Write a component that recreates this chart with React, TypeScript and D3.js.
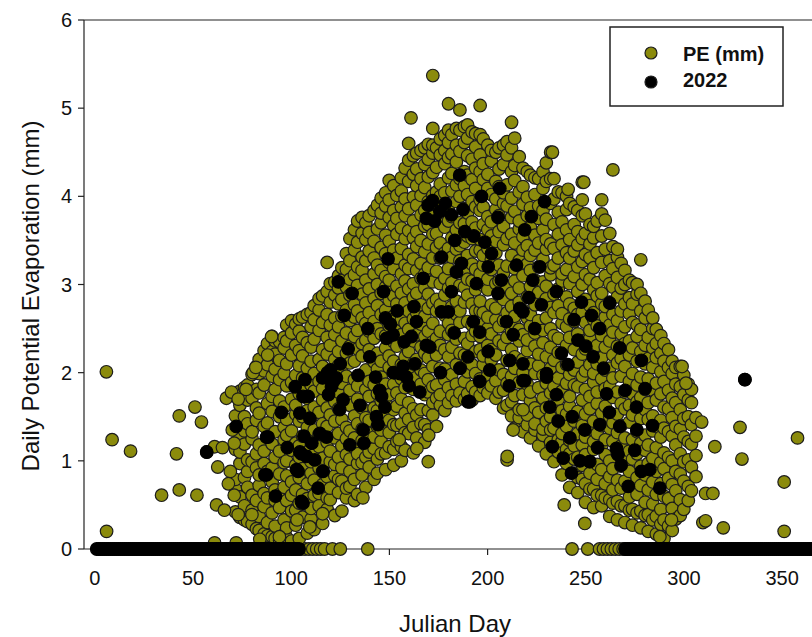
import React from 'react';
import * as d3 from 'd3';

const xTicks = [0, 50, 100, 150, 200, 250, 300, 350];
const yTicks = [0, 1, 2, 3, 4, 5, 6];
const seriesNames = ['PE (mm)', '2022'];

// PE (mm) cloud, read column by column: "julian day: PE values in hundredths of mm"
const peColumns = `71.6:42 68 79 113 137 151 176
73.9:36 59 97 110 128 163 179
76.2:33 49 81 119 134 150 183
77.8:31 70 88 101 142 169 186
80.1:28 44 61 99 125 133 171 198
82.3:23 55 92 108 146 160 181 207
83.7:21 37 72 84 118 154 177 199 215
86.2:17 48 63 97 111 139 186 202 225
87.9:15 30 58 88 127 143 165 209 233
90.3:14 41 76 92 119 156 173 196 224 241
91.8:12 26 55 67 104 133 181 204 221 236
94.1:10 47 62 85 111 150 168 192 214 235
96.4:11 33 70 98 124 138 161 199 228 240
97.7:13 24 55 83 100 129 147 185 210 236 254
100.2:9 43 61 76 112 134 170 189 220 245 259
102.3:27 44 67 95 120 153 163 197 231 255
104.1:12 52 81 104 117 145 176 208 225 247 261
105.8:36 51 62 91 128 150 182 194 219 240 263
108.2:18 57 74 110 138 157 171 205 234 266
110.1:34 46 86 99 124 149 186 213 229 252 268
111.7:22 61 78 107 135 161 179 199 238 260 276
114.2:49 63 92 116 130 155 190 215 248 271 284
116.0:29 73 88 103 142 169 182 207 226 257 287
118.3:45 58 82 121 139 160 197 221 240 266 292 325
119.9:56 69 99 111 152 175 193 231 254 280 301
122.2:38 83 96 126 145 167 186 215 243 262 288 303
124.1:64 79 104 131 159 178 208 224 252 278 296 310
125.8:43 77 92 117 147 188 201 236 264 283 305 319
128.1:58 69 107 125 138 171 196 222 245 271 297 317 335
129.9:71 88 102 134 163 180 211 230 259 288 306 327 352
132.2:55 79 115 126 151 192 213 241 263 277 311 339 362
133.8:62 97 108 142 170 185 227 248 270 299 320 348 372
136.1:84 98 123 136 160 198 219 233 262 289 316 331 358 376
138.0:70 104 118 149 181 203 237 256 279 305 327 351 370
139.7:93 110 131 146 173 190 226 247 268 295 338 359 378
142.2:79 114 127 160 186 212 239 258 284 312 330 349 384
143.9:86 102 139 157 176 204 222 250 276 300 322 363 390
145.8:108 122 135 168 195 213 244 266 290 316 342 370 381 398
148.1:90 109 150 164 187 228 242 271 297 309 335 356 389 404
149.9:116 132 146 175 206 219 253 282 305 325 349 376 396 418
152.2:95 113 141 158 187 213 235 264 287 318 339 367 384 412
153.8:122 140 162 177 199 230 247 278 298 330 357 375 401
156.1:100 116 142 170 193 209 243 260 290 312 341 364 388 406 421
158.0:112 132 154 183 218 232 256 279 304 322 352 378 397 432
159.8:131 147 166 200 224 249 270 295 318 334 361 386 417 441 460
162.2:109 138 159 181 210 236 261 285 301 329 353 372 399 425 446
163.9:126 152 195 215 243 268 290 316 343 360 390 412 431 449
166.1:142 158 187 203 229 255 277 307 324 350 379 401 420 452
168.0:121 141 175 199 222 241 264 296 312 337 366 384 410 436 455
169.8:99 135 157 178 192 217 247 273 289 319 346 368 394 422 442 459
172.1:152 166 184 207 235 256 279 303 330 357 377 401 427 449 458 477 537
174.0:139 171 186 220 239 270 283 315 342 358 391 405 433 455
175.9:163 175 205 231 247 277 301 330 347 376 400 414 447 465
178.2:157 192 204 226 265 288 307 336 365 381 404 437 452 469
180.1:166 183 218 243 256 296 318 341 372 389 421 444 461 475 505
181.8:174 198 229 248 275 302 331 353 377 406 426 448 470
184.1:168 187 209 238 266 281 315 340 362 394 413 439 458 477
185.9:177 205 222 257 270 299 327 344 370 400 420 451 475 498
188.2:170 190 220 239 280 297 313 348 369 386 412 428 461 479
189.8:176 201 213 233 258 288 306 333 355 381 402 424 446 466 481
192.1:169 184 209 242 254 278 304 323 352 371 394 419 442 473
193.9:178 199 224 247 270 294 317 338 364 388 409 432 456 471
196.2:174 193 226 241 270 281 312 339 351 384 396 428 447 470 503
197.8:183 209 219 255 268 299 322 333 368 388 419 437 465
200.1:177 197 231 250 263 294 306 341 362 377 409 425 458
201.9:185 214 226 244 277 317 328 355 371 402 440 452
204.2:171 191 220 260 273 301 336 349 385 397 417 450
205.8:178 203 236 252 288 304 322 360 378 411 431 455
208.1:160 180 198 232 259 283 313 345 366 392 404 436 458
209.9:101 163 188 214 240 268 297 321 352 389 413 447 462
212.2:151 167 196 226 247 275 290 333 357 376 398 428 455 484
213.8:137 174 205 218 255 264 304 318 347 383 418 435 466
216.1:149 158 189 236 249 280 296 327 363 372 405 445
218.0:133 175 200 215 243 271 310 339 354 391 411 432
220.2:141 152 187 225 237 262 286 323 344 378 399 428
221.8:126 168 178 210 253 266 298 316 333 365 387 424
224.1:135 142 160 199 230 245 277 305 339 356 402 421
226.0:117 155 183 208 221 259 291 320 347 375 389 420
228.2:129 136 171 197 234 248 279 303 329 362 384 409 428
229.9:108 145 160 188 218 262 284 298 340 351 374 417 438
232.1:121 135 150 177 205 229 250 274 311 319 346 392 420 450
233.8:99 137 162 184 214 242 268 289 322 341 368 397 420
236.0:110 124 146 170 194 223 239 276 295 330 357 382 405
237.9:84 122 131 157 179 206 256 267 304 312 345 371 404
240.2:97 113 139 153 188 209 231 252 286 317 336 362 385 400
241.8:70 108 123 162 173 198 240 261 278 301 330 351 392
244.1:86 102 117 145 186 203 226 258 273 309 338 368 388
245.9:64 81 104 131 156 184 212 244 266 292 320 345 360 384
248.2:79 95 118 140 169 196 221 236 269 300 326 352 378 396 416
249.8:53 74 107 127 153 181 202 227 257 283 311 334 358 380
252.1:68 86 99 136 159 173 209 239 248 276 306 330 346 368
254.0:47 68 113 122 145 189 199 218 260 268 294 319 353 366
255.8:61 79 96 131 165 178 210 231 253 287 302 336 372
258.1:49 61 90 117 140 154 193 217 242 278 290 325 355 380 396
259.9:58 74 107 124 162 182 203 229 263 275 310 340 373
262.2:37 56 82 100 137 150 185 205 236 254 280 301 327 358
263.8:52 67 91 122 143 172 194 220 246 266 297 318 343 430
266.1:33 54 78 108 132 153 178 211 230 259 286 308 331 340
268.0:49 69 94 117 140 165 196 216 244 270 296 324
269.9:30 49 77 99 126 159 178 207 233 252 278 300 316
272.2:44 59 88 111 144 163 190 220 236 267 285 305
273.8:27 45 71 102 124 152 176 199 228 257 278 302
276.1:41 62 81 108 133 167 186 213 241 254 289 300
278.0:24 43 72 94 120 148 172 195 224 249 270 290 328
280.2:38 53 84 112 129 158 181 210 231 262 281
281.8:20 39 67 97 118 147 166 193 216 240 271
284.1:33 51 76 103 134 151 180 206 228 250 262
285.9:17 37 62 88 115 139 169 188 217 233 249
288.2:28 45 74 98 127 146 176 201 222 242
289.8:12 33 60 91 109 137 161 190 213 233
292.1:26 57 80 104 133 159 180 206 226
294.0:21 46 73 100 128 149 171 199 213
295.8:34 66 88 118 139 166 187 206
298.1:38 56 85 108 136 158 184 207
299.9:45 77 99 127 148 175 197
302.2:55 71 101 122 150 169 187
303.8:66 93 119 141 166 181
306.1:82 106 128 149`;

// isolated PE points away from the main cloud: [day, mm]
const peScatter: [number, number][] = [
  [5.9, 2.01], [8.8, 1.24], [18.2, 1.11], [6, 0.2], [34, 0.61], [43, 0.67], [41.6, 1.08],
  [43, 1.51], [51, 1.61], [54.3, 1.44], [52, 0.61], [57, 1.1], [61, 1.16], [62, 0.5],
  [66, 0.44], [61, 0.07], [72, 0.07], [67, 1.71], [69.6, 1.78], [65, 1.15], [62.6, 0.93],
  [69, 0.88], [68, 0.74], [71, 0.61], [73, 0.39], [80, 0.39], [84, 0.11], [70, 1.35],
  [71, 1.2], [80.6, 2.0], [82, 2.06], [90, 2.41], [88, 2.2], [77, 1.81], [73, 1.7],
  [299, 2.07], [301, 1.88], [309, 1.44], [309.6, 0.3], [311, 0.63], [311, 0.32],
  [314.7, 0.63], [315.7, 1.16], [320, 0.24], [328.5, 1.38], [329.5, 1.02], [331, 1.92],
  [351, 0.76], [351, 0.2], [357.8, 1.26], [239, 0.5], [249.5, 0.29], [293.6, 0.33],
  [287.7, 0.14], [161, 4.89], [233, 4.5], [241, 4.08], [249, 4.16],
  [103, 0.33], [109.5, 0.25], [116, 0.4], [94, 0.14], [136.5, 0.58], [155, 1.24],
  [164, 1.14], [170, 1.29], [213, 1.35], [218, 1.58], [210, 1.05],
];

// PE days sitting on zero that show through the 2022 band
const peZeroDays = [105, 107, 109, 111, 113, 115, 117, 121, 125, 139, 243, 251, 257, 259, 261, 263, 265, 267, 269];

// 2022 values [day, mm]
const pts2022: [number, number][] = [
  [124, 3.03], [127, 2.65], [147, 2.92], [148, 2.62], [148.5, 2.39], [129, 2.27], [140, 2.18],
  [120, 2.03], [123, 1.94], [134, 1.97], [143, 1.95], [116, 1.94], [120.5, 1.84], [102, 1.84],
  [108.6, 1.73], [126.4, 1.69], [135, 1.63], [146, 1.73], [104.4, 1.54], [109.5, 1.48],
  [124.7, 1.58], [136.6, 1.35], [144.2, 1.41], [114.6, 1.31], [118, 1.27], [88.2, 1.27],
  [129.8, 1.18], [104.4, 1.1], [112, 1.01], [102.7, 0.9], [86.6, 0.84], [116.2, 0.88],
  [113.7, 0.69], [105.2, 0.54], [143.4, 1.5],
  [185.8, 4.24], [206.2, 4.09], [196.9, 4.0], [169.7, 3.9], [175.7, 3.83], [181.6, 3.79],
  [168.8, 3.75], [205.3, 3.76], [188.4, 3.6], [183.3, 3.5], [198.6, 3.48], [149.3, 3.29],
  [176.5, 3.31], [186.7, 3.24], [214.7, 3.22], [167.2, 3.07], [184.2, 3.14], [200.3, 3.2],
  [194.3, 3.01], [181.6, 2.92], [205.3, 2.9], [216.4, 2.73], [176.5, 2.69], [180, 2.69],
  [163.8, 2.58], [192.7, 2.58], [209.6, 2.58], [151.9, 2.43], [161.2, 2.41], [170.6, 2.29],
  [196, 2.46], [213, 2.43], [200.3, 2.24], [211.3, 2.14], [190, 2.18], [157, 2.07],
  [158.7, 1.95], [218, 1.91], [165.5, 1.78], [190, 1.67], [145, 1.8], [218, 2.1],
  [229, 3.94], [222.3, 3.77], [218.9, 3.62], [226.6, 3.2], [223, 3.05], [235, 2.92],
  [247.8, 2.8], [262.2, 2.79], [252.9, 2.65], [257.1, 2.5], [227.4, 2.77], [218, 2.69],
  [246, 2.37], [267.3, 2.28], [278.3, 2.14], [237.6, 2.22], [240.9, 2.09], [253.7, 2.18],
  [230, 1.99], [218.9, 1.91], [260.6, 1.76], [235, 1.75], [280.2, 1.82], [275.8, 1.61],
  [243.1, 1.5], [257.1, 1.41], [267.3, 1.39], [249.5, 1.35], [241.9, 1.26], [265.6, 1.14],
  [274.9, 1.12], [238.5, 1.03], [252, 0.99], [242.7, 0.86], [266.4, 1.07], [278.3, 0.88],
  [282.6, 0.9], [271.6, 0.71], [287.7, 0.69],
  [168.8, 2.31], [155.3, 1.99], [201.1, 2.03], [190.9, 1.67], [230, 1.95], [231.7, 1.61],
  [147.7, 1.61], [233, 1.16],
  [57, 1.1], [72, 1.39], [87.4, 1.27], [87.4, 0.84], [103.5, 0.88], [106, 0.52],
  [107, 1.92], [106, 1.73], [105.2, 1.08], [331, 1.92],
  [118.5, 2.0], [121.5, 1.9], [125, 2.1], [119, 1.75], [110.5, 1.2], [107.8, 1.05],
  [106.5, 1.28], [172, 3.95], [178.5, 3.92], [173, 3.72], [150.5, 2.55], [154, 2.7],
  [157.5, 2.35], [162.5, 2.75], [152, 2.0], [160, 1.85], [163, 2.1], [187.5, 3.85],
  [193, 3.55], [202, 3.35], [207, 3.05], [221, 2.85], [224, 2.5], [244, 2.6], [250, 2.3],
  [259, 2.05], [262, 1.55], [270, 1.8], [256, 1.15], [247, 1.0], [268, 0.95], [284, 1.4],
  [276, 1.35], [236, 1.45], [211, 1.85], [196, 1.9], [183, 2.45], [186, 2.05], [176, 2.0],
  [139, 2.5], [131, 2.9], [137, 1.2], [95, 1.55], [92, 0.6], [98, 1.15],
];

// 2022 days recorded as zero: [first day, last day]
const zeroRuns2022: [number, number][] = [[1, 104], [270, 370]];

function parseColumns(src: string): [number, number][] {
  const out: [number, number][] = [];
  src.trim().split('\n').forEach((line) => {
    const [d, vals] = line.split(':');
    vals.trim().split(/\s+/).forEach((v) => out.push([+d, +v / 100]));
  });
  return out;
}

export default function App() {
  const W = 812;
  const H = 637;
  const left = 84;
  const top = 20;
  const bottom = 549;
  const x = d3.scaleLinear().domain([-5.5, 370]).range([left, left + 375.5 * 1.964]);
  const y = d3.scaleLinear().domain([0, 6]).range([bottom, top]);

  const pe: [number, number][] = [
    ...peZeroDays.map((d) => [d, 0] as [number, number]),
    ...parseColumns(peColumns),
    ...peScatter,
  ];
  const zeros2022: [number, number][] = [];
  zeroRuns2022.forEach(([a, b]) => {
    for (let d = a; d <= b; d++) zeros2022.push([d, 0]);
  });
  const s2022 = [...zeros2022, ...pts2022];

  const r = 6.3;
  const olive = '#8b8b0c';
  const font = '"Liberation Sans", Arial, sans-serif';

  return (
    <svg width={W} height={H} style={{ position: 'absolute', left: 0, top: 0, background: '#fff' }}>
      <rect x={0} y={0} width={W} height={H} fill="#fff" />
      <line x1={left} x2={W} y1={top} y2={top} stroke="#222" strokeWidth={1.2} />
      <line x1={left} x2={left} y1={top} y2={bottom} stroke="#222" strokeWidth={1.2} />
      <line x1={left} x2={W} y1={bottom} y2={bottom} stroke="#222" strokeWidth={1.2} />
      {yTicks.map((t) => (
        <g key={'y' + t}>
          <line x1={left - 6} x2={left} y1={y(t)} y2={y(t)} stroke="#222" strokeWidth={1.2} />
          <text x={left - 12} y={y(t) + 7} textAnchor="end" fontFamily={font} fontSize={20} fill="#111">
            {t}
          </text>
        </g>
      ))}
      {xTicks.map((t) => (
        <g key={'x' + t}>
          <line x1={x(t)} x2={x(t)} y1={bottom} y2={bottom + 6} stroke="#222" strokeWidth={1.2} />
          <text x={x(t)} y={585} textAnchor="middle" fontFamily={font} fontSize={20} fill="#111">
            {t}
          </text>
        </g>
      ))}
      <g>
        {pe.map(([d, v], i) => (
          <circle key={'p' + i} cx={x(d)} cy={y(v)} r={r} fill={olive} stroke="#1c1c1c" strokeWidth={1.2} />
        ))}
      </g>
      <g>
        {s2022.map(([d, v], i) => (
          <circle key={'b' + i} cx={x(d)} cy={y(v)} r={r} fill="#000" stroke="#000" strokeWidth={1.2} />
        ))}
      </g>
      <text x={455} y={632} textAnchor="middle" fontFamily={font} fontSize={24} fill="#111">
        Julian Day
      </text>
      <text
        transform={`translate(38.5, 296) rotate(-90)`}
        textAnchor="middle"
        fontFamily={font}
        fontSize={24}
        fill="#111"
      >
        Daily Potential Evaporation (mm)
      </text>
      <rect x={610} y={27} width={173} height={79} fill="#fff" stroke="#222" strokeWidth={1.5} />
      {seriesNames.map((n, i) => (
        <g key={n}>
          <circle cx={651} cy={53 + i * 29} r={6} fill={i === 0 ? olive : '#000'} stroke="#1c1c1c" strokeWidth={1.2} />
          <text x={683} y={60.5 + i * 26.5} fontFamily={font} fontSize={20} fontWeight="bold" fill="#111">
            {n}
          </text>
        </g>
      ))}
    </svg>
  );
}
